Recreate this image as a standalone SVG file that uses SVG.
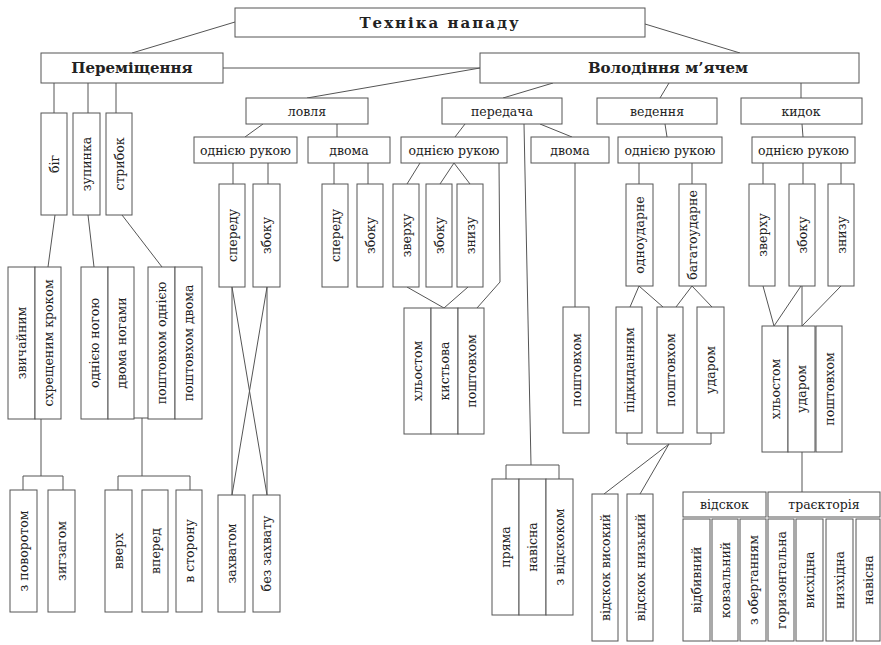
<svg xmlns="http://www.w3.org/2000/svg" width="881" height="645" viewBox="0 0 881 645">
<style>
rect{fill:#fff;stroke:#555;stroke-width:1}
text{font-family:"DejaVu Serif","Liberation Serif",serif;font-size:12.5px;fill:#222;text-anchor:middle;dominant-baseline:central}
.h{font-weight:bold;font-size:15px}
.ttl{font-weight:bold;font-size:15px;letter-spacing:2px}
.c line,.c polyline{stroke:#555;stroke-width:1;fill:none}
</style>
<rect x="0" y="0" width="881" height="645" style="fill:#fff;stroke:none"/>
<g class="c" id="connectors">
<line x1="235" y1="22" x2="132" y2="53"/>
<line x1="645" y1="24" x2="740" y2="53"/>
<line x1="223" y1="68" x2="480" y2="68"/>
<line x1="54" y1="83" x2="54" y2="113"/>
<line x1="88" y1="83" x2="88" y2="113"/>
<line x1="116" y1="83" x2="116" y2="113"/>
<line x1="55" y1="215" x2="48" y2="267"/>
<line x1="88" y1="215" x2="94" y2="267"/>
<line x1="122" y1="215" x2="162" y2="267"/>
<line x1="41" y1="419" x2="41" y2="476"/>
<polyline points="23,490 23,476 63,476 63,490"/>
<line x1="134" y1="418" x2="148" y2="418"/>
<line x1="142" y1="418" x2="142" y2="476"/>
<polyline points="118,490 118,476 190,476 190,490"/>
<line x1="307" y1="98" x2="480" y2="68"/>
<line x1="503" y1="98" x2="553" y2="83"/>
<line x1="660" y1="98" x2="669" y2="83"/>
<line x1="801" y1="83" x2="801" y2="98"/>
<line x1="263" y1="124" x2="245" y2="137"/>
<line x1="337" y1="124" x2="337" y2="137"/>
<line x1="233" y1="163" x2="233" y2="184"/>
<line x1="268" y1="163" x2="268" y2="184"/>
<line x1="334" y1="163" x2="334" y2="184"/>
<line x1="368" y1="163" x2="368" y2="184"/>
<line x1="232" y1="287" x2="232" y2="495"/>
<line x1="267" y1="287" x2="267" y2="495"/>
<line x1="232" y1="287" x2="267" y2="495"/>
<line x1="267" y1="287" x2="232" y2="495"/>
<line x1="465" y1="124" x2="455" y2="137"/>
<line x1="540" y1="124" x2="572" y2="137"/>
<line x1="524" y1="124" x2="531" y2="465"/>
<polyline points="506,479 506,465 559,465 559,479"/>
<line x1="420" y1="163" x2="407" y2="184"/>
<line x1="454" y1="163" x2="440" y2="184"/>
<line x1="454" y1="163" x2="470" y2="184"/>
<polyline points="499,163 500,282 477,308"/>
<line x1="407" y1="287" x2="444" y2="308"/>
<line x1="468" y1="287" x2="444" y2="308"/>
<line x1="575" y1="163" x2="575" y2="307"/>
<line x1="665" y1="124" x2="667" y2="137"/>
<line x1="639" y1="163" x2="639" y2="184"/>
<line x1="692" y1="163" x2="692" y2="184"/>
<line x1="639" y1="286" x2="630" y2="307"/>
<line x1="639" y1="286" x2="663" y2="307"/>
<line x1="692" y1="286" x2="676" y2="307"/>
<line x1="692" y1="286" x2="712" y2="307"/>
<polyline points="627,433 627,444 711,444 711,433"/>
<line x1="669" y1="444" x2="604" y2="494"/>
<line x1="669" y1="444" x2="640" y2="494"/>
<line x1="802" y1="124" x2="803" y2="137"/>
<line x1="763" y1="163" x2="763" y2="184"/>
<line x1="803" y1="163" x2="803" y2="184"/>
<line x1="841" y1="163" x2="841" y2="184"/>
<line x1="763" y1="286" x2="774" y2="326"/>
<line x1="801" y1="286" x2="774" y2="326"/>
<line x1="802" y1="286" x2="802" y2="326"/>
<line x1="841" y1="286" x2="802" y2="326"/>
<line x1="802" y1="452" x2="802" y2="492"/>
</g>
<g id="root"><rect x="235" y="8" width="410" height="29"/><text class="ttl" x="440" y="23">Техніка нападу</text></g>
<g id="per"><rect x="41" y="53" width="182" height="30"/><text class="h" x="132" y="68">Переміщення</text></g>
<g id="vol"><rect x="480" y="53" width="379" height="30"/><text class="h" x="668" y="68">Володіння м’ячем</text></g>
<g id="big"><rect x="41" y="113" width="26" height="102"/><text transform="translate(54,164) rotate(-90)">біг</text></g>
<g id="zup"><rect x="73" y="113" width="27" height="102"/><text transform="translate(86.5,164) rotate(-90)">зупинка</text></g>
<g id="str"><rect x="106" y="113" width="26" height="102"/><text transform="translate(119,164) rotate(-90)">стрибок</text></g>
<g id="zv"><rect x="8" y="267" width="27" height="152"/><text transform="translate(21.5,343) rotate(-90)">звичайним</text></g>
<g id="sx"><rect x="35" y="267" width="26" height="152"/><text transform="translate(48,343) rotate(-90)">схрещеним кроком</text></g>
<g id="on"><rect x="81" y="267" width="27" height="152"/><text transform="translate(94.5,343) rotate(-90)">однією ногою</text></g>
<g id="dn"><rect x="108" y="267" width="26" height="152"/><text transform="translate(121,343) rotate(-90)">двома ногами</text></g>
<g id="po"><rect x="148" y="267" width="27" height="152"/><text transform="translate(161.5,343) rotate(-90)">поштовхом однією</text></g>
<g id="pd"><rect x="175" y="267" width="27" height="152"/><text transform="translate(188.5,343) rotate(-90)">поштовхом двома</text></g>
<g id="zpov"><rect x="10" y="490" width="27" height="122"/><text transform="translate(23.5,551) rotate(-90)">з поворотом</text></g>
<g id="zig"><rect x="48" y="490" width="27" height="122"/><text transform="translate(61.5,551) rotate(-90)">зигзагом</text></g>
<g id="vverh"><rect x="105" y="490" width="27" height="122"/><text transform="translate(118.5,551) rotate(-90)">вверх</text></g>
<g id="vpered"><rect x="142" y="490" width="26" height="122"/><text transform="translate(155,551) rotate(-90)">вперед</text></g>
<g id="vstor"><rect x="176" y="490" width="26" height="122"/><text transform="translate(189,551) rotate(-90)">в сторону</text></g>
<g id="lovlya"><rect x="246" y="98" width="122" height="26"/><text x="307" y="111">ловля</text></g>
<g id="peredacha"><rect x="442" y="98" width="120" height="26"/><text x="502" y="111">передача</text></g>
<g id="vedennya"><rect x="597" y="98" width="120" height="26"/><text x="657" y="111">ведення</text></g>
<g id="kydok"><rect x="741" y="98" width="121" height="26"/><text x="801" y="111">кидок</text></g>
<g id="l_odn"><rect x="194" y="137" width="103" height="26"/><text x="245.5" y="150">однією рукою</text></g>
<g id="l_dv"><rect x="308" y="137" width="82" height="26"/><text x="349" y="150">двома</text></g>
<g id="p_odn"><rect x="401" y="137" width="106" height="26"/><text x="454" y="150">однією рукою</text></g>
<g id="p_dv"><rect x="531" y="137" width="78" height="26"/><text x="570" y="150">двома</text></g>
<g id="v_odn"><rect x="618" y="137" width="104" height="26"/><text x="670" y="150">однією рукою</text></g>
<g id="k_odn"><rect x="752" y="137" width="103" height="26"/><text x="803.5" y="150">однією рукою</text></g>
<g id="l_sp"><rect x="219" y="184" width="26" height="103"/><text transform="translate(232,235.5) rotate(-90)">спереду</text></g>
<g id="l_zb"><rect x="253" y="184" width="27" height="103"/><text transform="translate(266.5,235.5) rotate(-90)">збоку</text></g>
<g id="l2_sp"><rect x="322" y="184" width="26" height="103"/><text transform="translate(335,235.5) rotate(-90)">спереду</text></g>
<g id="l2_zb"><rect x="357" y="184" width="26" height="103"/><text transform="translate(370,235.5) rotate(-90)">збоку</text></g>
<g id="p_zv"><rect x="393" y="184" width="26" height="103"/><text transform="translate(406,235.5) rotate(-90)">зверху</text></g>
<g id="p_zb"><rect x="426" y="184" width="26" height="103"/><text transform="translate(439,235.5) rotate(-90)">збоку</text></g>
<g id="p_zn"><rect x="457" y="184" width="26" height="103"/><text transform="translate(470,235.5) rotate(-90)">знизу</text></g>
<g id="v_odnu"><rect x="626" y="184" width="27" height="102"/><text transform="translate(639.5,235) rotate(-90)">одноударне</text></g>
<g id="v_bag"><rect x="679" y="184" width="27" height="102"/><text transform="translate(692.5,235) rotate(-90)">багатоударне</text></g>
<g id="k_zv"><rect x="749" y="184" width="26" height="102"/><text transform="translate(762,235) rotate(-90)">зверху</text></g>
<g id="k_zb"><rect x="789" y="184" width="26" height="102"/><text transform="translate(802,235) rotate(-90)">збоку</text></g>
<g id="k_zn"><rect x="828" y="184" width="26" height="102"/><text transform="translate(841,235) rotate(-90)">знизу</text></g>
<g id="zahv"><rect x="218" y="495" width="27" height="117"/><text transform="translate(231.5,553.5) rotate(-90)">захватом</text></g>
<g id="bezzahv"><rect x="253" y="495" width="27" height="117"/><text transform="translate(266.5,553.5) rotate(-90)">без захвату</text></g>
<g id="p_hl"><rect x="404" y="308" width="27" height="126"/><text transform="translate(417.5,371) rotate(-90)">хльостом</text></g>
<g id="p_kys"><rect x="431" y="308" width="27" height="126"/><text transform="translate(444.5,371) rotate(-90)">кистьова</text></g>
<g id="p_posh"><rect x="458" y="308" width="26" height="126"/><text transform="translate(471,371) rotate(-90)">поштовхом</text></g>
<g id="p_posh2"><rect x="563" y="307" width="26" height="126"/><text transform="translate(576,370) rotate(-90)">поштовхом</text></g>
<g id="pryama"><rect x="492" y="479" width="27" height="136"/><text transform="translate(505.5,547) rotate(-90)">пряма</text></g>
<g id="navisna"><rect x="519" y="479" width="27" height="136"/><text transform="translate(532.5,547) rotate(-90)">навісна</text></g>
<g id="zvidsk"><rect x="546" y="479" width="27" height="136"/><text transform="translate(559.5,547) rotate(-90)">з відскоком</text></g>
<g id="pidk"><rect x="616" y="307" width="26" height="126"/><text transform="translate(629,370) rotate(-90)">підкиданням</text></g>
<g id="v_posh"><rect x="657" y="307" width="26" height="126"/><text transform="translate(670,370) rotate(-90)">поштовхом</text></g>
<g id="v_udar"><rect x="697" y="307" width="27" height="126"/><text transform="translate(710.5,370) rotate(-90)">ударом</text></g>
<g id="vys"><rect x="592" y="494" width="26" height="147"/><text transform="translate(605,567.5) rotate(-90)">відскок високий</text></g>
<g id="nyz"><rect x="627" y="494" width="26" height="147"/><text transform="translate(640,567.5) rotate(-90)">відскок низький</text></g>
<g id="k_hl"><rect x="762" y="326" width="26" height="126"/><text transform="translate(775,389) rotate(-90)">хльостом</text></g>
<g id="k_udar"><rect x="788" y="326" width="27" height="126"/><text transform="translate(801.5,389) rotate(-90)">ударом</text></g>
<g id="k_posh"><rect x="816" y="326" width="26" height="126"/><text transform="translate(829,389) rotate(-90)">поштовхом</text></g>
<g id="vidskok"><rect x="683" y="492" width="83" height="25"/><text x="724.5" y="504.5">відскок</text></g>
<g id="traekt"><rect x="768" y="492" width="112" height="25"/><text x="824" y="504.5">траєкторія</text></g>
<g id="vidb"><rect x="683" y="519" width="27" height="122"/><text transform="translate(696.5,580) rotate(-90)">відбивний</text></g>
<g id="kovz"><rect x="712" y="519" width="26" height="122"/><text transform="translate(725,580) rotate(-90)">ковзальний</text></g>
<g id="zober"><rect x="740" y="519" width="26" height="122"/><text transform="translate(753,580) rotate(-90)">з обертанням</text></g>
<g id="hor"><rect x="768" y="519" width="26" height="122"/><text transform="translate(781,580) rotate(-90)">горизонтальна</text></g>
<g id="vysh"><rect x="796" y="519" width="27" height="122"/><text transform="translate(809.5,580) rotate(-90)">висхідна</text></g>
<g id="nysh"><rect x="826" y="519" width="27" height="122"/><text transform="translate(839.5,580) rotate(-90)">низхідна</text></g>
<g id="navis2"><rect x="856" y="519" width="24" height="122"/><text transform="translate(868,580) rotate(-90)">навісна</text></g>
</svg>
